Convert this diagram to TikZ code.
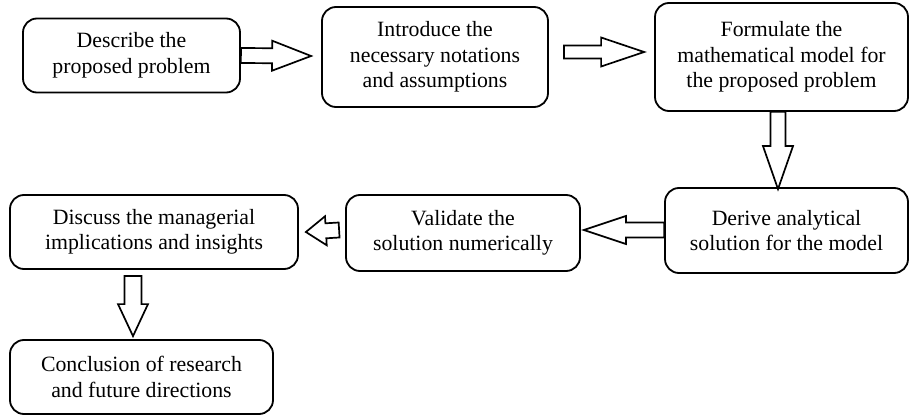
\documentclass[tikz,border=0pt]{standalone}
\usepackage{fontspec}
\setmainfont{Liberation Serif}
\usetikzlibrary{calc}
\tikzset{
  box/.style={draw=black, line width=1.8pt, rounded corners=14pt, align=center,
    font=\fontsize{21.8}{25.5}\selectfont, inner sep=0pt},
  blk/.style={draw=black, line width=1.7pt, fill=white, line join=miter},
}
% #1 start, #2 tip, #3 shaft half width, #4 head half width, #5 head length
\newcommand\blockarrow[5]{%
  \coordinate (bac) at ($(#2)!#5!(#1)$);
  \draw[blk] ($(#1)!#3!90:(#2)$) -- ($(bac)!#3!-90:(#1)$) -- ($(bac)!#4!-90:(#1)$)
    -- (#2) -- ($(bac)!#4!90:(#1)$) -- ($(bac)!#3!90:(#1)$) -- ($(#1)!#3!-90:(#2)$) -- cycle;
}
\begin{document}
\begin{tikzpicture}[x=1pt,y=-1pt]
\useasboundingbox (0,0) rectangle (911,417);
\node[box, minimum width=217pt, minimum height=74pt] (b1) at (131.5,55.5) {Describe the\\proposed problem};
\node[box, minimum width=226pt, minimum height=100pt] (b2) at (435,57) {Introduce the\\necessary notations\\and assumptions};
\node[box, minimum width=253pt, minimum height=108pt] (b3) at (781.5,57) {Formulate the\\mathematical model for\\the proposed problem};
\node[box, minimum width=243pt, minimum height=85pt] (b4) at (786.5,230.5) {Derive analytical\\solution for the model};
\node[box, minimum width=234pt, minimum height=76pt] (b5) at (463,233) {Validate the\\solution numerically};
\node[box, minimum width=288pt, minimum height=74pt] (b6) at (154,232) {Discuss the managerial\\implications and insights};
\node[box, minimum width=263pt, minimum height=74pt] (b7) at (141.5,377) {Conclusion of research\\and future directions};
% arrow end points
\coordinate (a1s) at (b1.east);
\coordinate (a1t) at ($(b2.west)+(-10,-1)$);
\coordinate (a2s) at ($(b2.east)+(15,-5)$);
\coordinate (a2t) at ($(b3.west)+(-10,-5)$);
\coordinate (a3s) at ($(b3.south)+(-3.5,0)$);
\coordinate (a3t) at ($(b4.north)+(-8.5,2)$);
\coordinate (a4s) at ($(b4.west)+(0,-0.5)$);
\coordinate (a4t) at ($(b5.east)+(3,-3)$);
\coordinate (a5s) at ($(b5.west)+(-6,-3)$);
\coordinate (a5t) at ($(b6.east)+(7,0)$);
\coordinate (a6s) at ($(b6.south)+(-21,6)$);
\coordinate (a6t) at ($(b7.north)+(-8.5,-3)$);
\blockarrow{a1s}{a1t}{7.5pt}{15pt}{39pt}
\blockarrow{a2s}{a2t}{6.5pt}{14.5pt}{43pt}
\blockarrow{a3s}{a3t}{7.5pt}{15pt}{43pt}
\blockarrow{a4s}{a4t}{7.5pt}{14pt}{42pt}
\blockarrow{a5s}{a5t}{7.5pt}{14.5pt}{20pt}
\blockarrow{a6s}{a6t}{8.5pt}{15pt}{32pt}
\end{tikzpicture}
\end{document}
